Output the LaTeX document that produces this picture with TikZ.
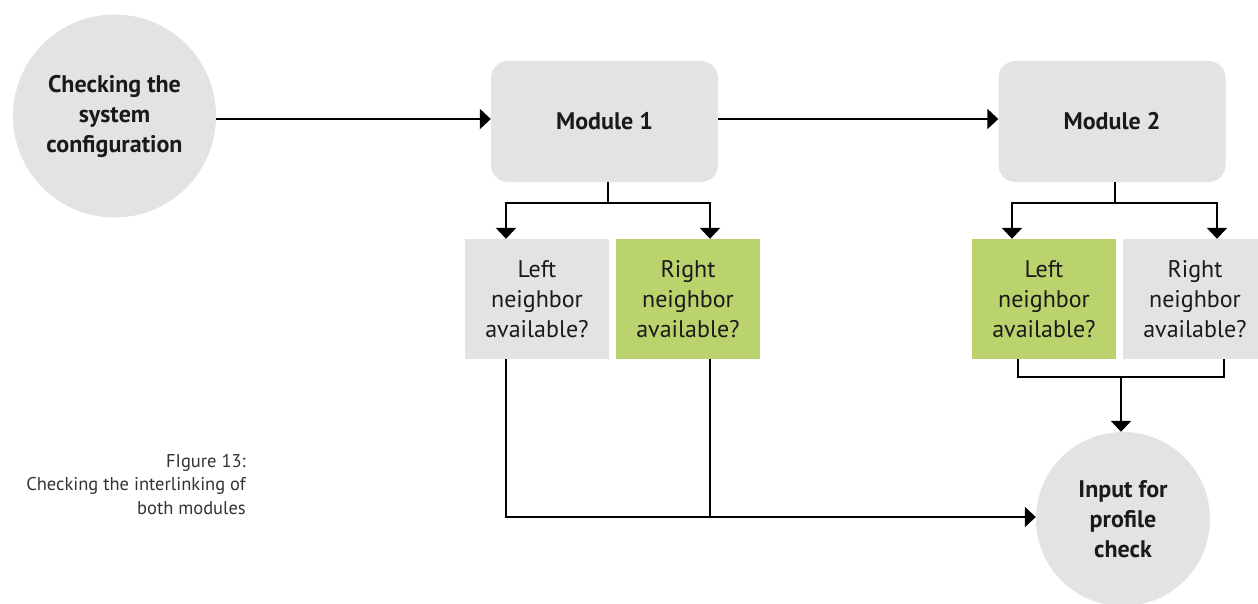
\documentclass[tikz,border=0pt]{standalone}
\usepackage{fontspec}
\setmainfont{PT Sans}
\usetikzlibrary{arrows.meta,calc}
\definecolor{boxgray}{HTML}{E3E3E3}
\definecolor{boxgreen}{HTML}{BAD36C}
\definecolor{textdark}{HTML}{1A1A1A}
\definecolor{captiongray}{HTML}{333333}
\tikzset{
  roundnode/.style={circle, fill=boxgray, inner sep=0pt, align=center,
    text=textdark, font=\fontsize{24}{30}\selectfont\bfseries},
  modulebox/.style={rectangle, rounded corners=17pt, fill=boxgray,
    minimum width=227pt, minimum height=121pt, inner sep=0pt,
    text=textdark, font=\fontsize{24}{30}\selectfont\bfseries},
  querybox/.style={rectangle, minimum width=144pt, minimum height=120pt,
    inner sep=0pt, align=center, text=textdark,
    font=\fontsize{24}{30}\selectfont},
  graybox/.style={querybox, fill=boxgray},
  greenbox/.style={querybox, fill=boxgreen},
  arr/.style={line width=2.4pt, -{Triangle[width=20pt,length=11pt]}},
  plain/.style={line width=2.4pt},
  caption/.style={align=right, anchor=north east, inner sep=0pt,
    text=captiongray, font=\fontsize{18.5}{23.5}\selectfont}
}
\begin{document}
\begin{tikzpicture}[x=1pt,y=-1pt]
  \useasboundingbox (0,0) rectangle (1258,603);

  % main nodes
  \node[roundnode, minimum size=203pt] (start) at (114.5,116)
    {Checking the\\system\\configuration};
  \node[modulebox] (m1) at (604.5,121.5) {Module 1};
  \node[modulebox] (m2) at (1112,121.5) {Module 2};

  \node[graybox]  (l1) at (537,299)  {Left\\neighbor\\available?};
  \node[greenbox] (r1) at (688,299)  {Right\\neighbor\\available?};
  \node[greenbox] (l2) at (1044,299) {Left\\neighbor\\available?};
  \node[graybox]  (r2) at (1195,299) {Right\\neighbor\\available?};

  \node[roundnode, minimum size=174pt] (input) at (1123,519)
    {Input for\\profile\\check};

  \node[caption] (cap) at (246,454)
    {FIgure 13:\\Checking the interlinking of\\both modules};

  % routing points
  \coordinate (s1) at (608,203);
  \coordinate (s2) at (1115,203);
  \coordinate (a1) at (506,203);
  \coordinate (b1) at (710,203);
  \coordinate (a2) at (1012,203);
  \coordinate (b2) at (1217,203);
  \coordinate (la) at (506,517);
  \coordinate (rb) at (710,517);
  \coordinate (ja) at (1018,377);
  \coordinate (jb) at (1224,377);
  \coordinate (jm) at (1121,377);

  % top row flow
  \draw[arr] (start.east |- 0,119) -- (m1.west |- 0,119);
  \draw[arr] (m1.east |- 0,119) -- (m2.west |- 0,119);

  % module 1 fan-out
  \draw[plain] (m1.south -| s1) -- (s1);
  \draw[arr] (s1) -- (a1) -- (a1 |- l1.north);
  \draw[arr] (s1) -- (b1) -- (b1 |- r1.north);

  % module 2 fan-out
  \draw[plain] (m2.south -| s2) -- (s2);
  \draw[arr] (s2) -- (a2) -- (a2 |- l2.north);
  \draw[arr] (s2) -- (b2) -- (b2 |- r2.north);

  % module 1 results to the profile check
  \draw[arr] (l1.south -| la) -- (la) -- (la -| input.west);
  \draw[plain] (r1.south -| rb) -- (rb);

  % module 2 results to the profile check
  \draw[plain] (l2.south -| ja) -- (ja) -- (jb) -- (r2.south -| jb);
  \draw[arr] (jm) -- (input.north -| jm);
\end{tikzpicture}
\end{document}
